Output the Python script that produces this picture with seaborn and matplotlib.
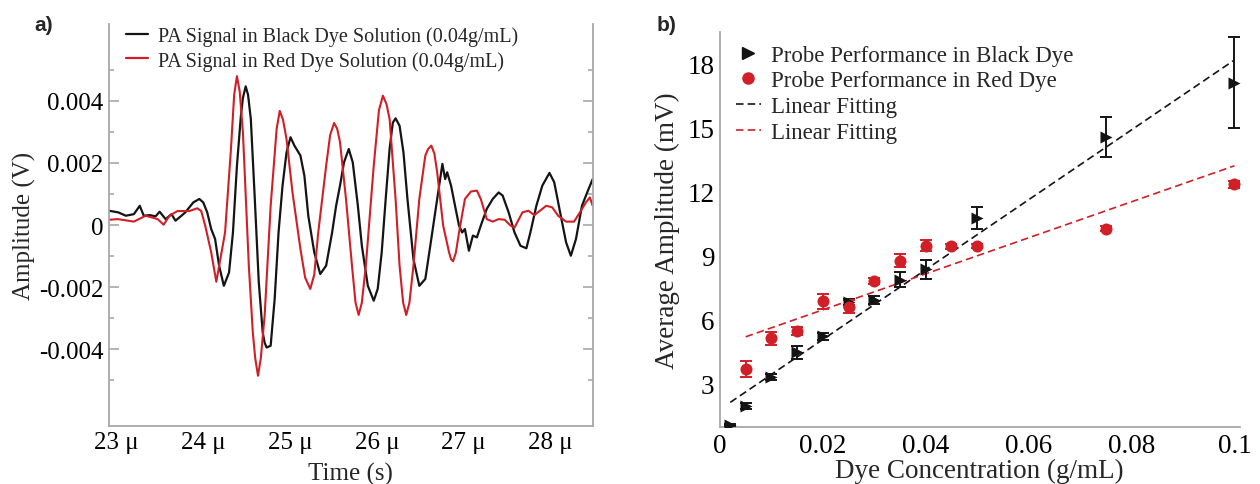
import numpy as np
import pandas as pd
import matplotlib
matplotlib.use("Agg")
import matplotlib.pyplot as plt
from matplotlib.lines import Line2D
from matplotlib.ticker import FixedLocator, FixedFormatter
import seaborn as sns

# ---------------- panel a: photoacoustic waveforms ----------------
black_t_us = [22.91, 23.014, 23.105, 23.197, 23.265, 23.311, 23.380, 23.448, 23.494, 23.563,
              23.631, 23.677, 23.746, 23.791, 23.883, 23.952, 23.997, 24.043, 24.089, 24.134,
              24.180, 24.235, 24.295, 24.340, 24.386, 24.432, 24.455, 24.487, 24.514, 24.546,
              24.592, 24.638, 24.683, 24.706, 24.729, 24.775, 24.821, 24.866, 24.912, 24.958,
              25.004, 25.049, 25.118, 25.164, 25.209, 25.278, 25.347, 25.415, 25.484, 25.530,
              25.575, 25.621, 25.676, 25.722, 25.781, 25.827, 25.896, 25.964, 26.010, 26.056,
              26.102, 26.147, 26.184, 26.216, 26.262, 26.307, 26.353, 26.422, 26.490, 26.559,
              26.628, 26.696, 26.756, 26.788, 26.811, 26.856, 26.902, 26.948, 26.984, 27.016,
              27.062, 27.108, 27.154, 27.199, 27.268, 27.337, 27.405, 27.451, 27.520, 27.588,
              27.657, 27.725, 27.771, 27.840, 27.909, 27.991, 28.046, 28.114, 28.183, 28.238,
              28.297, 28.366, 28.435, 28.49]
black_amp_mv = [0.46, 0.41, 0.30, 0.35, 0.62, 0.30, 0.32, 0.28, 0.43, 0.19,
                0.35, 0.14, 0.30, 0.41, 0.73, 0.84, 0.73, 0.41, -0.13, -0.45,
                -1.31, -1.96, -1.53, -0.24, 1.91, 3.53, 4.10, 4.47, 4.20, 3.42,
                0.84, -1.85, -3.46, -3.80, -3.95, -3.89, -2.39, -0.24, 1.27, 2.34,
                2.83, 2.56, 2.24, 1.59, 0.30, -0.88, -1.58, -1.31, -0.24, 0.62,
                1.27, 2.02, 2.45, 2.02, 0.62, -0.67, -1.96, -2.44, -2.06, -0.88,
                0.84, 2.45, 3.30, 3.44, 3.20, 2.34, 0.84, -1.10, -1.96, -1.74,
                -0.45, 0.84, 1.97, 1.48, 1.70, 1.27, 0.62, -0.02, -0.24, -0.13,
                -0.83, -0.34, -0.40, -0.02, 0.52, 0.84, 1.05, 0.95, 0.41, -0.24,
                -0.67, -0.75, -0.24, 0.62, 1.27, 1.68, 1.38, 0.41, -0.56, -0.99,
                -0.45, 0.62, 1.11, 1.48]

red_t_us = [22.91, 23.014, 23.197, 23.334, 23.471, 23.540, 23.608, 23.700, 23.837, 23.929,
            23.974, 24.020, 24.089, 24.148, 24.249, 24.317, 24.354, 24.386, 24.418, 24.455,
            24.523, 24.569, 24.597, 24.629, 24.661, 24.706, 24.775, 24.844, 24.880, 24.917,
            24.958, 25.027, 25.118, 25.173, 25.232, 25.278, 25.324, 25.415, 25.461, 25.507,
            25.543, 25.575, 25.644, 25.713, 25.754, 25.790, 25.827, 25.873, 25.964, 26.024,
            26.070, 26.111, 26.147, 26.216, 26.262, 26.303, 26.339, 26.376, 26.422, 26.490,
            26.559, 26.591, 26.628, 26.664, 26.696, 26.765, 26.833, 26.856, 26.879, 26.911,
            26.948, 27.016, 27.085, 27.154, 27.199, 27.268, 27.337, 27.405, 27.474, 27.543,
            27.588, 27.680, 27.748, 27.817, 27.954, 28.023, 28.091, 28.183, 28.275, 28.343,
            28.412, 28.457, 28.49]
red_amp_mv = [0.17, 0.19, 0.11, 0.30, 0.19, 0.01, 0.30, 0.45, 0.45, 0.54,
              0.45, -0.02, -0.88, -1.83, -0.24, 2.45, 4.20, 4.80, 4.30, 2.99,
              -1.31, -3.46, -4.30, -4.86, -4.30, -2.90, 0.62, 3.10, 3.68, 3.40,
              2.77, 1.05, -0.77, -1.70, -2.06, -1.60, -0.24, 1.91, 2.90, 3.29,
              3.10, 2.67, 0.84, -1.31, -2.50, -2.90, -2.50, -1.31, 1.91, 3.70,
              4.17, 3.90, 3.42, 0.84, -1.31, -2.50, -2.90, -2.50, -1.31, 0.84,
              2.24, 2.45, 2.56, 2.30, 1.70, -0.02, -0.88, -1.10, -1.17, -0.90,
              -0.24, 0.84, 1.08, 1.11, 0.84, 0.19, 0.11, 0.19, 0.17, -0.02,
              -0.08, 0.41, 0.46, 0.32, 0.62, 0.57, 0.30, 0.11, 0.11, 0.41,
              0.73, 0.89, 0.62]

wave_labels = ["PA Signal in Black Dye Solution (0.04g/mL)",
               "PA Signal in Red Dye Solution (0.04g/mL)"]
time_ticks_us = [23, 24, 25, 26, 27, 28]
time_minor_us = [23.5, 24.5, 25.5, 26.5, 27.5]
amp_ticks = [-0.004, -0.002, 0.0, 0.002, 0.004]
amp_tick_labels = ["-0.004", "-0.002", "0", "0.002", "0.004"]
amp_minor = [-0.005, -0.003, -0.001, 0.001, 0.003, 0.005]

# ---------------- panel b: amplitude vs concentration ----------------
black_conc = [0.002, 0.005, 0.01, 0.015, 0.02, 0.025, 0.03, 0.035, 0.04, 0.05, 0.075, 0.1]
black_mean = [1.05, 1.95, 3.30, 4.45, 5.20, 6.80, 6.90, 7.85, 8.35, 10.75, 14.55, 17.10]
black_err = [0.05, 0.15, 0.12, 0.30, 0.15, 0.15, 0.20, 0.35, 0.45, 0.50, 0.95, 2.15]

red_conc = [0.005, 0.01, 0.015, 0.02, 0.025, 0.03, 0.035, 0.04, 0.045, 0.05, 0.075, 0.1]
red_mean = [3.67, 5.12, 5.45, 6.85, 6.60, 7.80, 8.75, 9.45, 9.42, 9.45, 10.25, 12.33]
red_err = [0.36, 0.30, 0.20, 0.35, 0.30, 0.15, 0.30, 0.25, 0.10, 0.10, 0.12, 0.15]

# linear fits (slope in mV per g/mL, intercept in mV)
black_fit = (163.8, 1.78)
red_fit = (84.4, 4.76)

conc_ticks = [0, 0.02, 0.04, 0.06, 0.08, 0.1]
conc_tick_labels = ["0", "0.02", "0.04", "0.06", "0.08", "0.1"]
conc_minor = [0.01, 0.03, 0.05, 0.07, 0.09]
mean_ticks = [3, 6, 9, 12, 15, 18]
mean_minor = [1.5, 4.5, 7.5, 10.5, 13.5, 16.5]
scatter_labels = ["Probe Performance in Black Dye", "Probe Performance in Red Dye",
                  "Linear Fitting", "Linear Fitting"]

# ---------------- styling ----------------
sns.set_theme(style="white")
plt.rcParams["font.family"] = ["Liberation Serif", "DejaVu Serif"]

BLACK = "#141414"
RED = "#d01f26"
FRAME = "#a8a8a8"

fig = plt.figure(figsize=(12.6, 4.85), dpi=100)
ax1 = fig.add_axes([0.0865, 0.1202, 0.3839, 0.8282])
ax2 = fig.add_axes([0.5714, 0.1169, 0.4124, 0.8150])

# ---- panel a ----
wave_black = pd.DataFrame({"t": np.array(black_t_us) * 1e-6, "a": np.array(black_amp_mv) * 1e-3})
wave_red = pd.DataFrame({"t": np.array(red_t_us) * 1e-6, "a": np.array(red_amp_mv) * 1e-3})
sns.lineplot(data=wave_black, x="t", y="a", ax=ax1, color=BLACK, lw=1.6,
             sort=False, estimator=None, legend=False)
sns.lineplot(data=wave_red, x="t", y="a", ax=ax1, color=RED, lw=1.5,
             sort=False, estimator=None, legend=False)

ax1.set_xlim(22.91e-6, 28.49e-6)
ax1.set_ylim(-0.00647, 0.00648)
ax1.xaxis.set_major_locator(FixedLocator([v * 1e-6 for v in time_ticks_us]))
ax1.xaxis.set_major_formatter(FixedFormatter([f"{v} μ" for v in time_ticks_us]))
ax1.xaxis.set_minor_locator(FixedLocator([v * 1e-6 for v in time_minor_us]))
ax1.yaxis.set_major_locator(FixedLocator(amp_ticks))
ax1.yaxis.set_major_formatter(FixedFormatter(amp_tick_labels))
ax1.yaxis.set_minor_locator(FixedLocator(amp_minor))
ax1.set_xlabel("Time (s)", fontsize=18, labelpad=6)
ax1.set_ylabel("Amplitude (V)", fontsize=18, labelpad=2)
for side in ["left", "right", "bottom"]:
    ax1.spines[side].set_color(FRAME)
    ax1.spines[side].set_linewidth(1.3)
ax1.spines["top"].set_visible(False)
ax1.tick_params(axis="both", which="both", direction="in", colors=FRAME,
                labelcolor="black", labelsize=18, pad=4)
ax1.tick_params(axis="y", which="both", left=True, right=True)
ax1.tick_params(which="major", length=7, width=1.2)
ax1.tick_params(which="minor", length=3.5, width=1.2)

h1 = [Line2D([], [], color=BLACK, lw=1.6), Line2D([], [], color=RED, lw=1.6)]
ax1.legend(h1, wave_labels, loc="upper left", bbox_to_anchor=(0.035, 0.995),
           frameon=False, fontsize=14.5, handlelength=1.1, handletextpad=0.5,
           labelspacing=0.25, borderaxespad=0, borderpad=0)

# ---- panel b ----
df_black = pd.DataFrame({"c": black_conc, "m": black_mean, "e": black_err})
df_red = pd.DataFrame({"c": red_conc, "m": red_mean, "e": red_err})

for df, (slope, icpt), col in [(df_black, black_fit, BLACK), (df_red, red_fit, RED)]:
    xs = np.array([df["c"].min(), df["c"].max()])
    sns.lineplot(x=xs, y=icpt + slope * xs, ax=ax2, color=col, lw=1.2,
                 linestyle=(0, (4.5, 2.5)), legend=False, zorder=2)

ax2.errorbar(df_black["c"], df_black["m"], yerr=df_black["e"], fmt="none",
             ecolor=BLACK, elinewidth=1.4, capsize=4, capthick=1.4, zorder=3)
sns.scatterplot(data=df_black, x="c", y="m", ax=ax2, marker=">", s=75,
                color=BLACK, edgecolor=BLACK, linewidth=0, zorder=4, legend=False)
ax2.errorbar(df_red["c"], df_red["m"], yerr=df_red["e"], fmt="none",
             ecolor=RED, elinewidth=1.4, capsize=4, capthick=1.4, zorder=3)
sns.scatterplot(data=df_red, x="c", y="m", ax=ax2, marker="o", s=75,
                color=RED, edgecolor=RED, linewidth=0, zorder=4, legend=False)

ax2.set_xlim(0, 0.101)
ax2.set_ylim(0.94, 19.47)
ax2.xaxis.set_major_locator(FixedLocator(conc_ticks))
ax2.xaxis.set_major_formatter(FixedFormatter(conc_tick_labels))
ax2.xaxis.set_minor_locator(FixedLocator(conc_minor))
ax2.yaxis.set_major_locator(FixedLocator(mean_ticks))
ax2.yaxis.set_major_formatter(FixedFormatter([str(v) for v in mean_ticks]))
ax2.yaxis.set_minor_locator(FixedLocator(mean_minor))
ax2.set_xlabel("Dye Concentration (g/mL)", fontsize=19.5, labelpad=0)
ax2.set_ylabel("Average Amplitude (mV)", fontsize=19.5, labelpad=5)
for side in ["left", "bottom"]:
    ax2.spines[side].set_color(FRAME)
    ax2.spines[side].set_linewidth(1.3)
for side in ["top", "right"]:
    ax2.spines[side].set_visible(False)
ax2.tick_params(axis="both", which="both", direction="in", colors=FRAME,
                labelcolor="black", labelsize=19.5, pad=4)
ax2.tick_params(which="major", length=7, width=1.2)
ax2.tick_params(which="minor", length=3.5, width=1.2)

h2 = [Line2D([], [], ls="none", marker=">", ms=8, color=BLACK),
      Line2D([], [], ls="none", marker="o", ms=8, color=RED),
      Line2D([], [], color=BLACK, lw=1.2, ls=(0, (4.5, 2.5))),
      Line2D([], [], color=RED, lw=1.2, ls=(0, (4.5, 2.5)))]
ax2.legend(h2, scatter_labels, loc="upper left", bbox_to_anchor=(0.03, 0.968),
           frameon=False, fontsize=16.5, handlelength=1.1, handletextpad=0.45,
           labelspacing=0.2, borderaxespad=0, borderpad=0)

# panel letters
fig.text(0.027, 0.948, "a)", fontsize=15, fontweight="bold", family="Liberation Sans",
         ha="left", va="center")
fig.text(0.521, 0.948, "b)", fontsize=15, fontweight="bold", family="Liberation Sans",
         ha="left", va="center")

fig.savefig("out.png", dpi=100)
